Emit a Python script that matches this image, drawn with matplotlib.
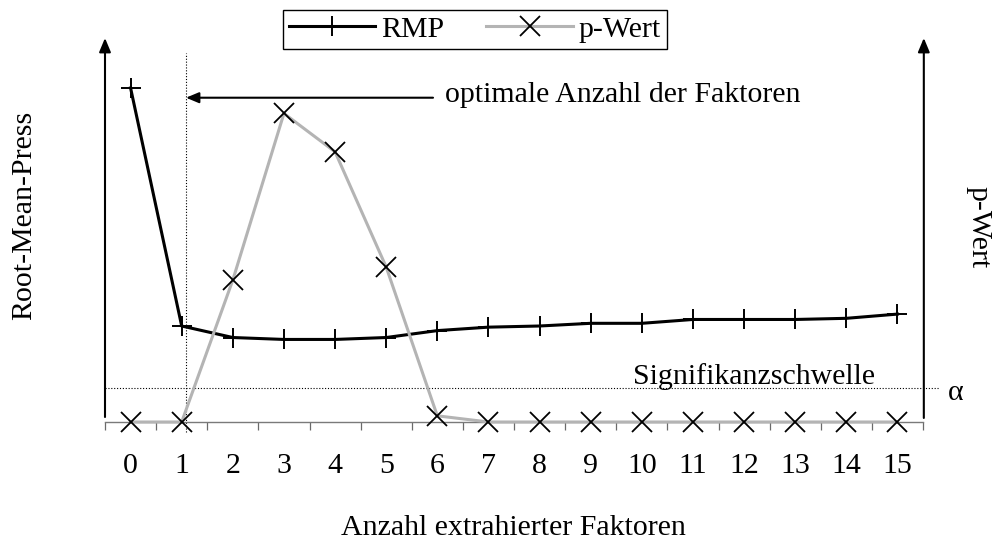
import matplotlib
matplotlib.use('Agg')
import matplotlib.pyplot as plt
import numpy as np
from matplotlib.transforms import blended_transform_factory

plt.rcParams['font.family'] = ['Liberation Serif', 'DejaVu Serif']
plt.rcParams['font.size'] = 21.5

# ---- data ----
factors = list(range(16))
tick_labels = [str(f) for f in factors]
rmp = [0.870, 0.250, 0.220, 0.215, 0.215, 0.220, 0.238, 0.247,
       0.250, 0.257, 0.257, 0.267, 0.267, 0.267, 0.270, 0.281]
p_wert = [0.0, 0.0, 0.207, 0.450, 0.394, 0.226, 0.009, 0.0,
          0.0, 0.0, 0.0, 0.0, 0.0, 0.0, 0.0, 0.0]
alpha = 0.05
optimal_k = 1
series_names = ['RMP', 'p-Wert']

# ---- layout ----
W, H = 997, 542
L, R, B, T = 105, 923, 422, 38
fig = plt.figure(figsize=(W / 100, H / 100), dpi=100)
ax = fig.add_axes([L / W, 1 - B / H, (R - L) / W, (B - T) / H])
ax2 = ax.twinx()
ax.set_xlim(-0.5, 15.5)
ax.set_ylim(0, 1.0)
ax2.set_ylim(0, 0.56)
for a in (ax, ax2):
    for s in a.spines.values():
        s.set_visible(False)
    a.set_yticks([])
ax.spines['bottom'].set_visible(True)
ax.spines['bottom'].set_color('#7a7a7a')
ax.spines['bottom'].set_linewidth(1.0)
ax.set_xticks(factors, tick_labels)
ax.set_xticks(np.arange(-0.5, 16, 1), minor=True)
ax.tick_params(axis='x', which='major', length=0, pad=22.5)
ax.tick_params(axis='x', which='minor', length=5.8, width=0.9,
               color='#6a6a6a', direction='out')

# ---- series ----
l1, = ax.plot(factors, rmp, color='black', lw=2.2, marker='+', ms=15,
              mew=1.4, clip_on=False, zorder=4)
l2, = ax2.plot(factors, p_wert, color='#b4b4b4', lw=2.2, marker='x', ms=15,
               mec='black', mfc='black', mew=1.3, clip_on=False, zorder=3)

# ---- axis arrows ----
arrow_kw = dict(arrowstyle='-|>,head_length=0.6,head_width=0.25', lw=1.5,
                color='black', mutation_scale=14, shrinkA=0, shrinkB=0)
ax.annotate('', xy=(0, 1.0), xycoords='axes fraction', xytext=(0, 0.013),
            arrowprops=arrow_kw, annotation_clip=False)
ax.annotate('', xy=(1.001, 1.0), xycoords='axes fraction', xytext=(1.001, 0.0105),
            arrowprops=arrow_kw, annotation_clip=False)

# ---- optimal factor marker ----
tr = blended_transform_factory(ax.transData, ax.transAxes)
ax.plot([optimal_k + 0.075] * 2, [-0.026, 0.961], transform=tr, color='black',
        lw=0.8, ls=(0, (1, 1.6)), clip_on=False, zorder=2)
ax.annotate('', xy=(0.099, 0.8445), xycoords='axes fraction',
            xytext=(0.401, 0.8445),
            arrowprops=dict(arrowstyle='-|>,head_length=0.55,head_width=0.23',
                            lw=1.5, color='black', mutation_scale=14,
                            shrinkA=0, shrinkB=0), annotation_clip=False)
ax.text(0.4156, 0.834, 'optimale Anzahl der Faktoren', transform=ax.transAxes,
        ha='left', va='baseline')

# ---- significance threshold ----
tr2 = blended_transform_factory(ax.transAxes, ax2.transData)
ax2.plot([0, 1.0196], [alpha, alpha], transform=tr2, color='black', lw=0.8,
         ls=(0, (1, 1.6)), clip_on=False, zorder=2)
ax2.annotate('Signifikanzschwelle', xy=(0.941, alpha), xycoords=tr2,
             xytext=(0, 3), textcoords='offset points', ha='right', va='baseline')
ax2.annotate('α', xy=(1.0396, alpha), xycoords=tr2, xytext=(0, -4),
             textcoords='offset points', ha='center', va='center')

# ---- labels ----
fig.text(513 / W, (H - 535) / H, 'Anzahl extrahierter Faktoren',
         ha='center', va='baseline')
fig.text(24 / W, 1 - 215 / H, 'Root-Mean-Press', rotation=90,
         ha='center', va='center')
fig.text(978 / W, 1 - 227 / H, 'p-Wert', rotation=270,
         ha='center', va='center')

# ---- legend ----
fig.legend([l1, l2], series_names, loc='upper center',
           bbox_to_anchor=(475 / W, 1 - 10 / H), ncol=2, frameon=True,
           fancybox=False, edgecolor='black', framealpha=1, borderpad=0.2,
           handlelength=2.9, handletextpad=0.2, columnspacing=1.4,
           borderaxespad=0)
fig.legends[0].get_frame().set_linewidth(1.0)

fig.savefig('out.png', dpi=100)
